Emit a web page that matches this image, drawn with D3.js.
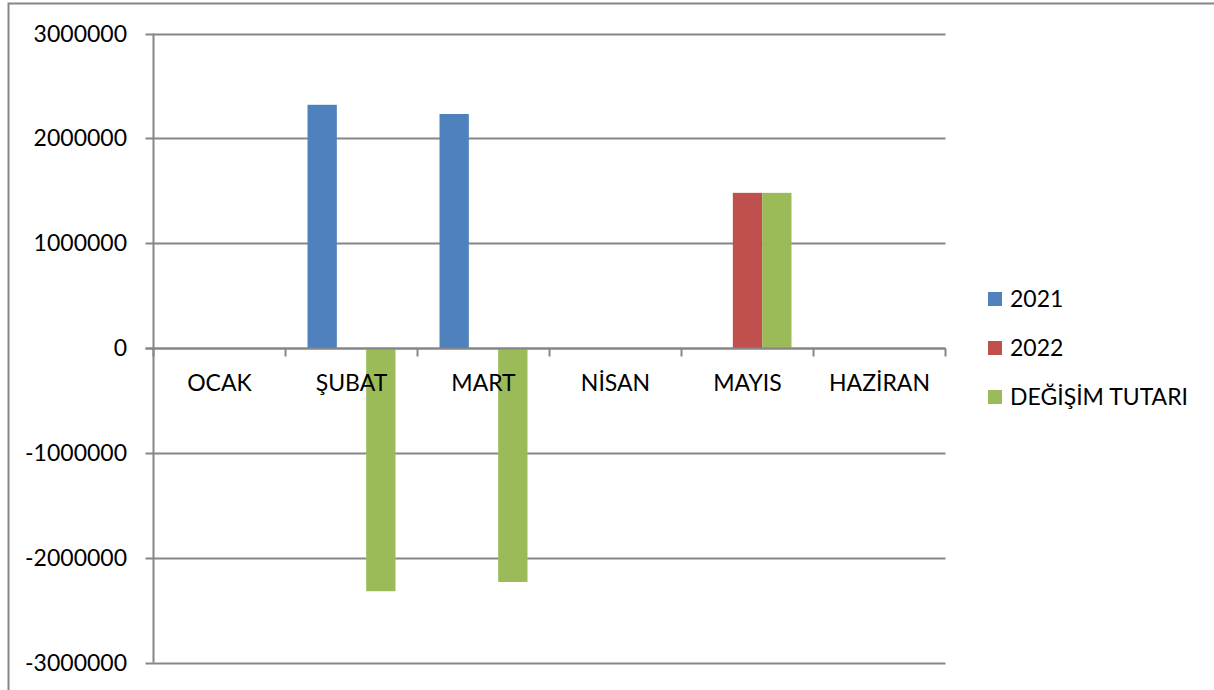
<!DOCTYPE html>
<html><head><meta charset="utf-8">
<script src="https://cdn.jsdelivr.net/npm/d3@7"></script>
<style>body{margin:0;background:#fff}svg{display:block}text{font-family:Lato,"Open Sans",sans-serif;fill:#000}</style>
</head><body><svg id="c" width="1214" height="690"></svg>
<script>
const categories = ["OCAK","ŞUBAT","MART","NİSAN","MAYIS","HAZİRAN"];
const seriesNames = ["2021","2022","DEĞİŞİM TUTARI"];
const colors = ["#4F81BD","#C0504D","#9BBB59"];
const v2021 = [0, 2320000, 2232000, 0, 0, 0];
const v2022 = [0, 0, 0, 0, 1480000, 0];
const vChange = [0, -2320000, -2232000, 0, 1480000, 0];
const yTicks = [-3000000,-2000000,-1000000,0,1000000,2000000,3000000];

const series = [v2021, v2022, vChange];
const svg = d3.select("#c");
const L = 153.5, R = 945.5, T = 33.5, B = 662.5;
const fs = 23;

svg.append("rect").attr("x",8.5).attr("y",3.5).attr("width",1300).attr("height",800)
  .attr("fill","none").attr("stroke","#868686").attr("stroke-width",2);

const x = d3.scaleBand().domain(categories).range([L,R]).paddingInner(0).paddingOuter(0);
const y = d3.scaleLinear().domain([-3000000,3000000]).range([B,T]);

// gridlines
svg.append("g").selectAll("line").data(yTicks).join("line")
  .attr("x1",L-8).attr("x2",R).attr("y1",d=>Math.round(y(d))+0.5).attr("y2",d=>Math.round(y(d))+0.5)
  .attr("stroke","#868686").attr("stroke-width",2);

// y axis line
svg.append("line").attr("x1",L).attr("x2",L).attr("y1",T).attr("y2",B).attr("stroke","#868686").attr("stroke-width",2);

// y labels
svg.append("g").selectAll("text").data(yTicks).join("text")
  .attr("x",127).attr("y",d=>y(d)).attr("dy","0.35em").attr("text-anchor","end")
  .attr("font-size",fs).text(d=>d);

// bars
const gw = x.bandwidth()/(3+1.5);
const offset = gw*0.75;
series.forEach((s,si)=>{
  svg.append("g").selectAll("rect").data(s.map((v,i)=>({v,c:categories[i]})).filter(d=>d.v!==0)).join("rect")
    .attr("x",d=>x(d.c)+offset+si*gw)
    .attr("width",gw)
    .attr("y",d=>y(Math.max(0,d.v)))
    .attr("height",d=>Math.abs(y(d.v)-y(0)))
    .attr("fill",colors[si]);
});

// zero axis line and category ticks
const y0 = Math.round(y(0))+0.5;
svg.append("line").attr("x1",L-8).attr("x2",R).attr("y1",y0).attr("y2",y0).attr("stroke","#868686").attr("stroke-width",2);
const bounds = categories.map(c=>x(c)).concat([R]);
svg.append("g").selectAll("line").data(bounds).join("line")
  .attr("x1",d=>d).attr("x2",d=>d).attr("y1",y0).attr("y2",y0+8).attr("stroke","#868686").attr("stroke-width",2);

// category labels
svg.append("g").selectAll("text").data(categories).join("text")
  .attr("x",d=>x(d)+x.bandwidth()/2).attr("y",391).attr("text-anchor","middle")
  .attr("font-size",fs).text(d=>d);

// legend
const lg = svg.append("g");
seriesNames.forEach((n,i)=>{
  const cy = 299 + i*49;
  lg.append("rect").attr("x",988).attr("y",cy-7).attr("width",14).attr("height",14).attr("fill",colors[i]);
  lg.append("text").attr("x",1010).attr("y",cy).attr("dy","0.35em").attr("font-size",fs).text(n);
});
</script></body></html>
